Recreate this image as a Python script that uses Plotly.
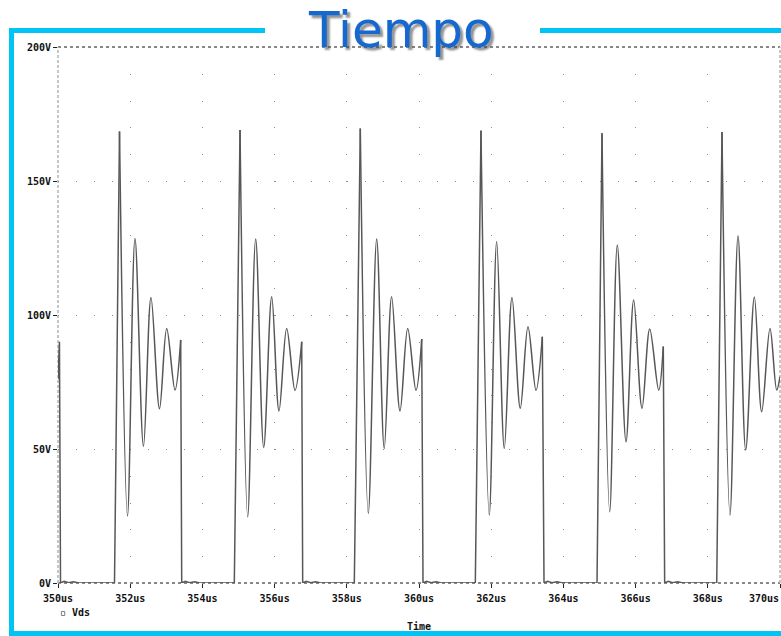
import plotly.graph_objects as go

# ---- Vds waveform (time in us, voltage in V) ----
# Tail of the cycle already in progress at 350 us
head_t = [350.0, 350.04]
head_v = [76.0, 90.0]

# Switch turn-off (drop to 0 V) and turn-on (rise from 0 V) instants
fall_t = [350.07, 353.427, 356.778, 360.111, 363.463, 366.805]
rise_t = [351.565, 354.884, 358.208, 361.560, 364.931, 368.247]

# Small ripple right after each drop to 0 V (offset from the drop, V)
ripple_dt = [0.10, 0.22, 0.36, 0.50]
ripple_v = [0.6, 0.1, 0.5, 0.0]

# Ringing after each rise: peak, valley, peak, ... last sample before the drop
ring_t = [
    [351.704, 351.925, 352.133, 352.368, 352.576, 352.812, 353.011, 353.241, 353.399],
    [355.042, 355.255, 355.476, 355.698, 355.920, 356.122, 356.335, 356.565, 356.751],
    [358.374, 358.596, 358.828, 359.037, 359.242, 359.474, 359.687, 359.917, 360.075],
    [361.717, 361.947, 362.152, 362.363, 362.576, 362.806, 363.019, 363.241, 363.416],
    [365.069, 365.283, 365.493, 365.734, 365.947, 366.177, 366.391, 366.640, 366.767],
    [368.393, 368.615, 368.837, 369.050, 369.290, 369.493, 369.723, 369.909, 370.0],
]
ring_v = [
    [168.5, 25.0, 128.5, 51.0, 106.5, 65.0, 95.0, 72.0, 90.7],
    [169.0, 24.7, 128.4, 50.6, 106.8, 64.2, 95.0, 71.9, 90.0],
    [169.6, 26.0, 128.4, 50.2, 106.8, 64.2, 95.0, 71.9, 91.0],
    [168.8, 25.4, 127.4, 50.2, 106.5, 65.2, 95.6, 71.9, 91.9],
    [167.8, 26.6, 126.1, 52.7, 105.6, 65.2, 94.8, 72.0, 88.2],
    [168.3, 25.4, 129.5, 49.6, 106.7, 63.9, 95.0, 72.0, 77.0],
]

# ---- Axes ----
x_ticks = [350, 352, 354, 356, 358, 360, 362, 364, 366, 368, 370]
x_labels = ["350us", "352us", "354us", "356us", "358us", "360us",
            "362us", "364us", "366us", "368us", "370us"]
y_ticks = [0, 50, 100, 150, 200]
y_labels = ["0V", "50V", "100V", "150V", "200V"]

WAVE = "#575757"
MONO = "DejaVu Sans Mono"

# Switching edges and the 0 V off-intervals (straight segments)
edge_x, edge_y = [], []
prev_t, prev_v = head_t, head_v
for k in range(len(fall_t)):
    seg_x = list(prev_t) + [fall_t[k]]
    seg_y = list(prev_v) + [0.0]
    seg_x += [fall_t[k] + d for d in ripple_dt]
    seg_y += ripple_v
    seg_x += [rise_t[k], ring_t[k][0]]
    seg_y += [0.0, ring_v[k][0]]
    edge_x += seg_x + [None]
    edge_y += seg_y + [None]
    prev_t, prev_v = [ring_t[k][-1]], [ring_v[k][-1]]

# Damped ringing (smooth segments)
ring_x, ring_y = [], []
for tt, vv in zip(ring_t, ring_v):
    ring_x += tt + [None]
    ring_y += vv + [None]

fig = go.Figure()
fig.add_trace(go.Scatter(x=edge_x, y=edge_y, mode="lines", name="Vds",
                         line=dict(color=WAVE, width=1.5), connectgaps=False,
                         showlegend=False, hoverinfo="skip"))
fig.add_trace(go.Scatter(x=ring_x, y=ring_y, mode="lines", name="Vds",
                         line=dict(color=WAVE, width=1.5, shape="spline", smoothing=1.0),
                         connectgaps=False, showlegend=False))

W, H = 781, 636
L, R, T, B = 58, 1, 47, 53
pw, ph = W - L - R, H - T - B


def fx(px):
    return (px - L) / pw


def fy(py):
    return (H - B - py) / ph


shapes = [
    # plot border: black dashed top/bottom, grey dashed sides
    dict(type="line", xref="paper", yref="paper", x0=0, x1=1, y0=1, y1=1,
         line=dict(color="#111", width=1, dash="3px,3px"), layer="between"),
    dict(type="line", xref="paper", yref="paper", x0=0, x1=1, y0=0, y1=0,
         line=dict(color="#111", width=1, dash="3px,3px"), layer="between"),
    dict(type="line", xref="paper", yref="paper", x0=0, x1=0, y0=0, y1=1,
         line=dict(color="#b4b4b4", width=1.5, dash="3px,2px"), layer="between"),
    dict(type="line", xref="paper", yref="paper", x0=1, x1=1, y0=0, y1=1,
         line=dict(color="#b4b4b4", width=1.5, dash="3px,2px"), layer="between"),
]
CYAN = "#00c4f4"
for x0, y0, x1, y1 in [(11.5, 28, 11.5, 640), (9, 30.5, 265, 30.5),
                       (540, 30.5, 790, 30.5), (9, 633.5, 790, 633.5)]:
    shapes.append(dict(type="line", xref="paper", yref="paper",
                       x0=fx(x0), x1=fx(x1), y0=fy(y0), y1=fy(y1),
                       line=dict(color=CYAN, width=5), layer="above"))

tick_font = dict(family=MONO, size=10, color="#111", weight="bold")

# The last time label sits flush against the right edge of the window,
# so it is drawn right-aligned at its tick instead of centred on it.
axis_text = x_labels[:-1] + [""]

fig.update_layout(
    width=W, height=H,
    margin=dict(l=L, r=R, t=T, b=B, autoexpand=False),
    paper_bgcolor="white", plot_bgcolor="white",
    showlegend=False,
    shapes=shapes,
    xaxis=dict(range=[350, 370], tickvals=x_ticks, ticktext=axis_text,
               ticks="outside", ticklen=4, tickcolor="#222", tickwidth=1,
               showline=False, zeroline=False, automargin=False,
               showgrid=True, gridcolor="#8c8c8c", gridwidth=1, griddash="1px,25.8px",
               tickfont=tick_font, ticklabelstandoff=2,
               title=dict(text="Time", font=tick_font, standoff=19)),
    yaxis=dict(range=[0, 200], tickvals=y_ticks, ticktext=y_labels,
               ticks="outside", ticklen=4, tickcolor="#222", tickwidth=1,
               showline=False, zeroline=False, automargin=False,
               showgrid=True, gridcolor="#8c8c8c", gridwidth=1, griddash="1px,17.05px",
               tickfont=tick_font),
    annotations=[
        dict(text=x_labels[-1], xref="x", yref="paper", x=x_ticks[-1], y=fy(598),
             xanchor="right", yanchor="middle", showarrow=False, borderpad=0,
             font=tick_font),
        dict(text="Tiempo", xref="paper", yref="paper", x=fx(401), y=fy(0),
             xanchor="center", yanchor="top", showarrow=False, borderpad=0,
             font=dict(family="DejaVu Sans", size=50, color="#1468d0",
                       shadow="3px 3px 2px rgba(60,60,60,0.55)")),
        dict(text="▫ Vds", xref="paper", yref="paper", x=fx(58), y=fy(612),
             xanchor="left", yanchor="middle", showarrow=False,
             font=dict(family=MONO, size=10, color="#111", weight="bold")),
    ],
)

fig.write_html("out.html")
